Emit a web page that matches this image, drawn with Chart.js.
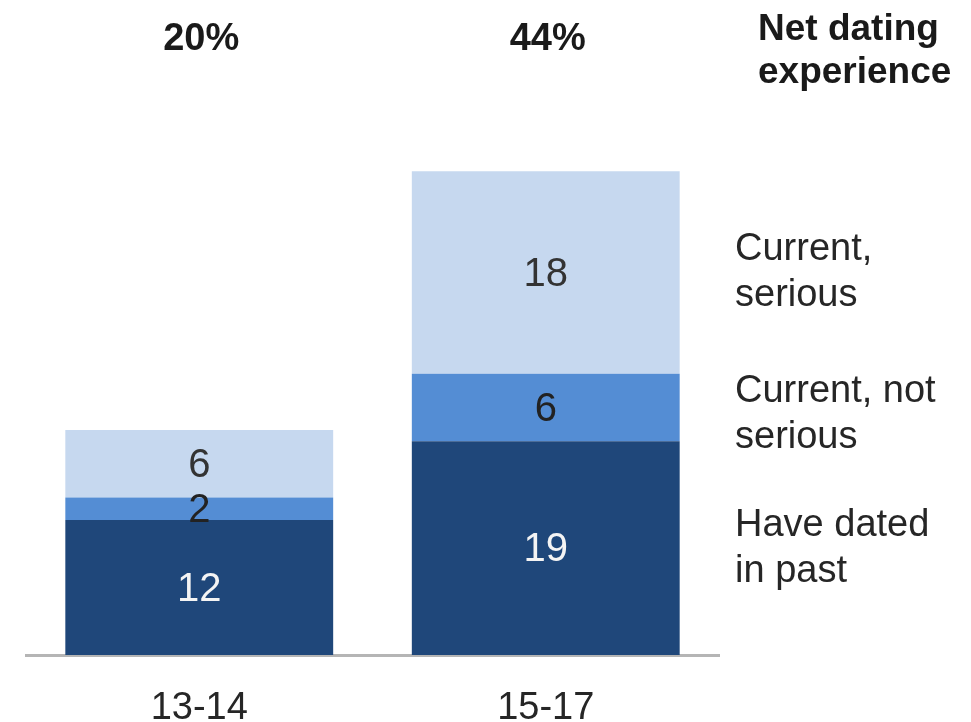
<!DOCTYPE html>
<html>
<head>
<meta charset="utf-8">
<script src="https://cdn.jsdelivr.net/npm/chart.js@4.4.1/dist/chart.umd.min.js"></script>
<style>
  html, body { margin: 0; padding: 0; background: #fff; }
  #wrap { width: 971px; height: 722px; }
</style>
</head>
<body>
<div id="wrap"><canvas id="bars" width="971" height="722"></canvas></div>
<script>
// age groups and shares of teens (%)
const categories = ['13-14', '15-17'];
const datedInPast = [12, 19];
const currentNotSerious = [2, 6];
const currentSerious = [6, 18];
const netExperience = [20, 44];

const seriesNames = [
  ['Have dated', 'in past'],
  ['Current, not', 'serious'],
  ['Current,', 'serious'],
];

const FONT = '"Liberation Sans", Arial, sans-serif';
const valueColors = ['#f4f4f4', '#222222', '#333333'];

// draws segment values, net totals and the side labels
const annotations = {
  id: 'annotations',
  afterDatasetsDraw(chart) {
    const ctx = chart.ctx;
    const xScale = chart.scales.x;
    ctx.save();
    ctx.textAlign = 'center';
    ctx.textBaseline = 'middle';
    ctx.font = '40px ' + FONT;
    chart.data.datasets.forEach((ds, i) => {
      chart.getDatasetMeta(i).data.forEach((bar, j) => {
        ctx.fillStyle = valueColors[i];
        ctx.fillText(ds.data[j], bar.x, (bar.y + bar.base) / 2 + 2);
      });
    });

    ctx.fillStyle = '#1a1a1a';
    ctx.font = 'bold 38px ' + FONT;
    netExperience.forEach((v, j) => {
      ctx.fillText(v + '%', xScale.getPixelForValue(j) + 2, 40);
    });
    ctx.textAlign = 'left';
    ctx.font = 'bold 37px ' + FONT;
    ctx.fillText('Net dating', 758, 30);
    ctx.fillText('experience', 758, 73);

    // labels beside the last bar
    const last = categories.length - 1;
    ctx.font = '38px ' + FONT;
    ctx.fillStyle = '#262626';
    seriesNames.forEach((lines, i) => {
      const bar = chart.getDatasetMeta(i).data[last];
      const cy = (bar.y + bar.base) / 2 + (i === 1 ? 7 : 0);
      ctx.fillText(lines[0], 735, cy - 23);
      ctx.fillText(lines[1], 735, cy + 23);
    });
    ctx.restore();
  }
};

const config = {
  type: 'bar',
  data: {
    labels: categories,
    datasets: [
      { label: 'Have dated in past', data: datedInPast, backgroundColor: '#1f477a' },
      { label: 'Current, not serious', data: currentNotSerious, backgroundColor: '#548dd4' },
      { label: 'Current, serious', data: currentSerious, backgroundColor: '#c6d8ef' },
    ],
  },
  options: {
    responsive: false,
    animation: false,
    devicePixelRatio: 1,
    layout: { padding: { left: 26, right: 252, top: 115, bottom: 0 } },
    datasets: { bar: { barPercentage: 0.773, categoryPercentage: 1 } },
    plugins: { legend: { display: false }, tooltip: { enabled: false } },
    scales: {
      x: {
        stacked: true,
        grid: { display: false, drawTicks: false },
        border: { display: true, color: '#b5b5b5', width: 3 },
        ticks: { color: '#262626', font: { family: FONT, size: 38 }, padding: 31 },
        afterFit: (scale) => { scale.height = 67; },
      },
      y: {
        stacked: true,
        display: false,
        min: 0,
        max: 48,
      },
    },
  },
  plugins: [annotations],
};

window.myBars = new Chart(document.getElementById('bars'), config);
</script>
</body>
</html>
